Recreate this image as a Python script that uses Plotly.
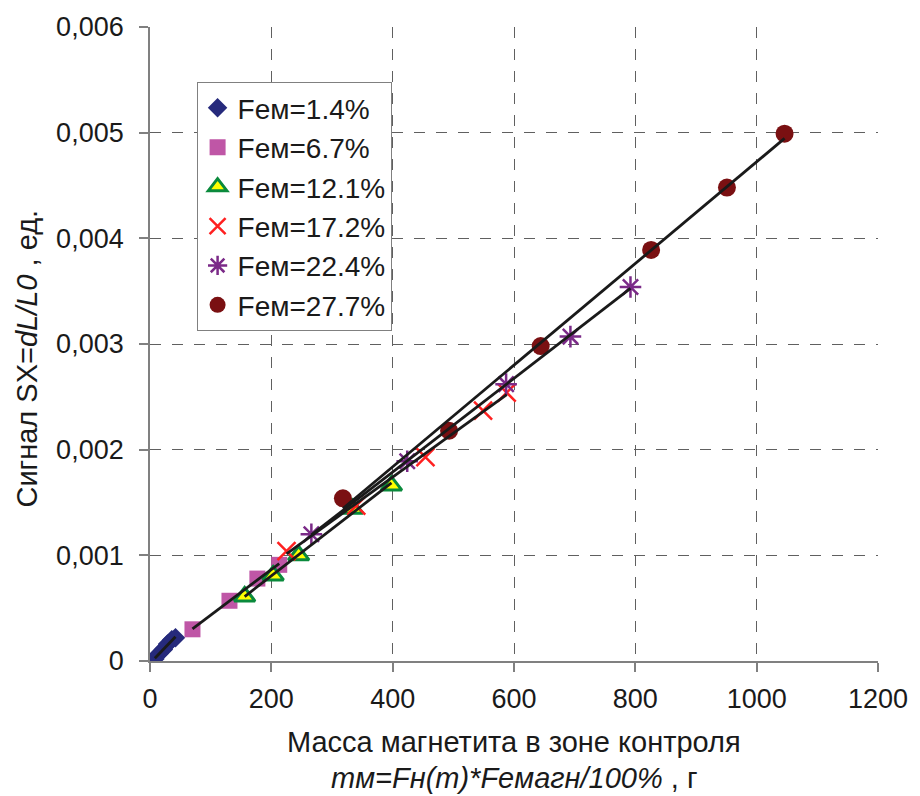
import numpy as np
import plotly.graph_objects as go

# ---- data ----
series_names = ["Feм=1.4%", "Feм=6.7%", "Feм=12.1%", "Feм=17.2%", "Feм=22.4%", "Feм=27.7%"]

x_fe14 = [8, 15, 22, 29, 36, 42]
y_fe14 = [0.00002, 0.00007, 0.00011, 0.00016, 0.00020, 0.00022]

x_fe67 = [70, 131, 177, 213]
y_fe67 = [0.00030, 0.00057, 0.00078, 0.00091]

x_fe121 = [156, 203, 245, 334, 398]
y_fe121 = [0.00061, 0.00081, 0.00100, 0.00144, 0.00166]

x_fe172 = [225, 340, 454, 549, 588]
y_fe172 = [0.00104, 0.00147, 0.00193, 0.00237, 0.00254]

x_fe224 = [266, 424, 587, 693, 792]
y_fe224 = [0.00120, 0.00189, 0.00262, 0.00307, 0.00354]

x_fe277 = [318, 493, 644, 826, 951, 1046]
y_fe277 = [0.00154, 0.00218, 0.00298, 0.00389, 0.00448, 0.00499]

x_ticks = [0, 200, 400, 600, 800, 1000, 1200]
y_ticks = [0, 0.001, 0.002, 0.003, 0.004, 0.005, 0.006]
y_ticktext = ["0", "0,001", "0,002", "0,003", "0,004", "0,005", "0,006"]

xs = [x_fe14, x_fe67, x_fe121, x_fe172, x_fe224, x_fe277]
ys = [y_fe14, y_fe67, y_fe121, y_fe172, y_fe224, y_fe277]

FONT = "Liberation Sans, Arial, sans-serif"
TXT = "#1a1a1a"

markers = [
    dict(symbol="diamond", size=15, color="#262a7c", line=dict(width=0)),
    dict(symbol="square", size=16, color="#bf56a6", line=dict(width=0)),
    dict(symbol="triangle-up", size=18, color="#ffff00", line=dict(width=3, color="#0a8a3c")),
    dict(symbol="x-thin-open", size=18, color="#ff2020", line=dict(width=2.5, color="#ff2020")),
    dict(symbol="asterisk-open", size=18, color="#7b2a88", line=dict(width=2.5, color="#7b2a88")),
    dict(symbol="circle", size=18, color="#7a1012", line=dict(width=0)),
]

fig = go.Figure()

# markers
for name, x, y, m in zip(series_names, xs, ys, markers):
    fig.add_trace(go.Scatter(x=x, y=y, mode="markers", name=name, marker=m))

# linear trendlines (computed from data)
for x, y in zip(xs, ys):
    k, b = np.polyfit(x, y, 1)
    xl = np.array([min(x), max(x)])
    fig.add_trace(go.Scatter(x=xl, y=k * xl + b, mode="lines", showlegend=False,
                             line=dict(color="#1a1a1a", width=2.8), hoverinfo="skip"))

fig.update_layout(
    width=920, height=796,
    margin=dict(l=150, r=38, t=26, b=135),
    paper_bgcolor="white", plot_bgcolor="white",
    font=dict(family=FONT, size=28, color=TXT),
    showlegend=True,
    legend=dict(x=0.064, y=0.913, xanchor="left", yanchor="top",
                bgcolor="white", bordercolor="#808080", borderwidth=1,
                font=dict(size=28, family=FONT, color=TXT), itemsizing="trace"),
)

axis_common = dict(
    showline=True, linecolor="#808080", linewidth=1.8,
    ticks="outside", ticklen=9, tickcolor="#808080", tickwidth=1.8,
    showgrid=True, gridcolor="#606060", gridwidth=1.3, griddash="11px,11px",
    zeroline=False, fixedrange=True,
)
fig.update_xaxes(range=[0, 1200], tickvals=x_ticks, ticktext=[str(v) for v in x_ticks],
                 tickfont=dict(size=27, family=FONT, color=TXT), ticklabelstandoff=4,
                 **axis_common)
fig.update_yaxes(range=[0, 0.006], tickvals=y_ticks, ticktext=y_ticktext,
                 tickfont=dict(size=27, family=FONT, color=TXT), ticklabelstandoff=10,
                 **axis_common)

fig.add_annotation(text="Сигнал SX=<i>dL/L0</i> , ед.", textangle=-90,
                   xref="paper", yref="paper", x=-0.169, y=0.477,
                   xanchor="center", yanchor="middle", showarrow=False,
                   font=dict(size=29, family=FONT, color=TXT))
fig.add_annotation(text="Масса магнетита в зоне контроля",
                   xref="paper", yref="paper", x=0.5, y=-0.1276,
                   xanchor="center", yanchor="middle", showarrow=False,
                   font=dict(size=29, family=FONT, color=TXT))
fig.add_annotation(text="<i>mм=Fн(m)*Feмагн/100%</i> , г",
                   xref="paper", yref="paper", x=0.5, y=-0.184,
                   xanchor="center", yanchor="middle", showarrow=False,
                   font=dict(size=29, family=FONT, color=TXT))

fig.write_html("out.html", config={"displayModeBar": False},
               post_script="document.body.style.margin='0px';document.body.style.overflow='hidden';")
